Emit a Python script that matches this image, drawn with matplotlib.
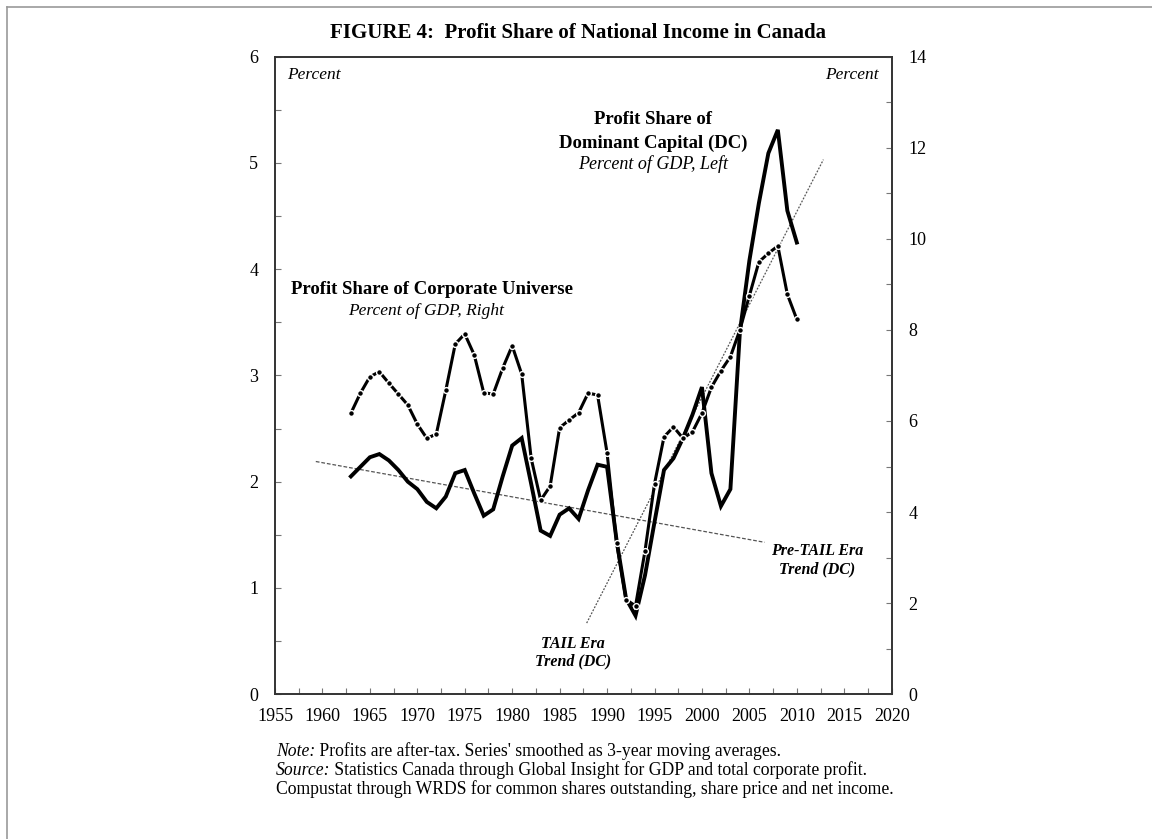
import matplotlib
matplotlib.use("Agg")
import matplotlib.pyplot as plt
from matplotlib.ticker import MultipleLocator
from matplotlib.lines import Line2D

# ---------------- data ----------------
years = list(range(1963, 2011))
dc_share = [2.05, 2.14, 2.23, 2.26, 2.20, 2.11, 2.00, 1.93, 1.81, 1.75,
            1.86, 2.08, 2.11, 1.89, 1.68, 1.74, 2.05, 2.34, 2.41, 1.98,
            1.54, 1.49, 1.69, 1.75, 1.65, 1.92, 2.16, 2.14, 1.45, 0.90,
            0.74, 1.12, 1.62, 2.11, 2.22, 2.41, 2.63, 2.89, 2.08, 1.77,
            1.93, 3.41, 4.08, 4.62, 5.09, 5.31, 4.55, 4.25]
cu_share = [6.17, 6.61, 6.97, 7.08, 6.83, 6.59, 6.35, 5.93, 5.62, 5.71,
            6.67, 7.69, 7.91, 7.45, 6.62, 6.59, 7.16, 7.65, 7.03, 5.18,
            4.26, 4.57, 5.85, 6.02, 6.18, 6.61, 6.57, 5.30, 3.33, 2.08,
            1.94, 3.15, 4.62, 5.65, 5.87, 5.62, 5.76, 6.17, 6.74, 7.10,
            7.41, 8.00, 8.75, 9.49, 9.68, 9.84, 8.78, 8.23]
pre_tail_years = [1959.3, 2006.6]
pre_tail_vals = [2.19, 1.43]
tail_years = [1987.85, 2012.8]
tail_vals = [0.67, 5.03]

x_ticks_major = list(range(1955, 2021, 5))
left_ticks = [0, 1, 2, 3, 4, 5, 6]
right_ticks = [0, 2, 4, 6, 8, 10, 12, 14]

title = "FIGURE 4:  Profit Share of National Income in Canada"

# ---------------- figure ----------------
W, H = 1152, 839
fig = plt.figure(figsize=(W / 100, H / 100), dpi=100)
serif = "Liberation Serif"
plt.rcParams["font.family"] = [serif, "DejaVu Serif"]


def fx(px):
    return px / W


def fy(py):
    return 1 - py / H


axL, axR, axT, axB = 275, 891.7, 56.5, 694.3
ax = fig.add_axes([fx(axL), fy(axB), fx(axR) - fx(axL), fy(axT) - fy(axB)])
ax2 = ax.twinx()

# outer frame (top and left lines)
fig.add_artist(Line2D([fx(7), 1.0], [fy(7), fy(7)], color="#9a9a9a", lw=1.2))
fig.add_artist(Line2D([fx(7), fx(7)], [fy(7), 0.0], color="#9a9a9a", lw=1.2))

# trend lines
ax.plot(pre_tail_years, pre_tail_vals, color="#555555", lw=0.9,
        linestyle=(0, (3, 1.5)))
ax.plot(tail_years, tail_vals, color="#555555", lw=0.9,
        linestyle=(0, (1.5, 1.2)))

# DC series
ax.plot(years, dc_share, color="black", lw=2.8, solid_joinstyle="miter",
        zorder=3)

# Corporate universe series
ax2.plot(years, cu_share, color="black", lw=2.2, marker="o", ms=4.2,
         mfc="black", mec="white", mew=1.0, zorder=4)

ax.set_xlim(1955, 2020)
ax.set_ylim(0, 6)
ax2.set_ylim(0, 14)

ax.xaxis.set_minor_locator(MultipleLocator(2.5))
ax.yaxis.set_minor_locator(MultipleLocator(0.5))
ax2.yaxis.set_minor_locator(MultipleLocator(1))
ax.set_xticks(x_ticks_major)
ax.set_xticklabels([str(v) for v in x_ticks_major])
ax.set_yticks(left_ticks)
ax.set_yticklabels([str(v) for v in left_ticks])
ax2.set_yticks(right_ticks)
ax2.set_yticklabels([str(v) for v in right_ticks])

for a in (ax, ax2):
    for s in a.spines.values():
        s.set_linewidth(1.2)
        s.set_color("#333333")
    a.tick_params(which="both", direction="in", length=4, width=0.8,
                  color="#777777", labelsize=13)
ax.tick_params(axis="y", which="both", right=False, pad=12)
ax.tick_params(axis="x", which="both", top=False, pad=10)
ax2.tick_params(axis="y", which="both", left=False, pad=12)
for lab in ax.get_xticklabels() + ax.get_yticklabels() + ax2.get_yticklabels():
    lab.set_fontfamily(serif)

# ---------------- texts ----------------
fig.text(fx(578), fy(33), title, ha="center", va="center",
         fontsize=15, fontweight="bold", family=serif)
fig.text(fx(287), fy(75), "Percent", ha="left", va="center",
         fontsize=12.5, style="italic", family=serif)
fig.text(fx(879), fy(75), "Percent", ha="right", va="center",
         fontsize=12.5, style="italic", family=serif)

fig.text(fx(432), fy(289), "Profit Share of Corporate Universe", ha="center",
         va="center", fontsize=13.5, fontweight="bold", family=serif)
fig.text(fx(426), fy(311), "Percent of GDP, Right", ha="center",
         va="center", fontsize=12.5, style="italic", family=serif)

fig.text(fx(653), fy(120), "Profit Share of", ha="center", va="center",
         fontsize=13.5, fontweight="bold", family=serif)
fig.text(fx(653), fy(143), "Dominant Capital (DC)", ha="center", va="center",
         fontsize=13.5, fontweight="bold", family=serif)
fig.text(fx(653), fy(164), "Percent of GDP, Left", ha="center", va="center",
         fontsize=13, style="italic", family=serif)

fig.text(fx(817), fy(551), "Pre-TAIL Era", ha="center", va="center",
         fontsize=11.5, fontweight="bold", style="italic", family=serif)
fig.text(fx(817), fy(569), "Trend (DC)", ha="center", va="center",
         fontsize=11.5, fontweight="bold", style="italic", family=serif)
fig.text(fx(573), fy(644), "TAIL Era", ha="center", va="center",
         fontsize=11.5, fontweight="bold", style="italic", family=serif)
fig.text(fx(573), fy(661), "Trend (DC)", ha="center", va="center",
         fontsize=11.5, fontweight="bold", style="italic", family=serif)

# notes with italic prefixes (baseline aligned)
fig.canvas.draw()
renderer = fig.canvas.get_renderer()
note_lines = [
    ("Note:", " Profits are after-tax. Series' smoothed as 3-year moving averages.", 756),
    ("Source:", " Statistics Canada through Global Insight for GDP and total corporate profit.", 775),
    ("", "Compustat through WRDS for common shares outstanding, share price and net income.", 794),
]
for prefix, rest, py in note_lines:
    x0 = fx(276)
    if prefix:
        t = fig.text(x0, fy(py), prefix, ha="left", va="baseline",
                     fontsize=12.7, style="italic", family=serif)
        bb = t.get_window_extent(renderer)
        x0 = bb.x1 / W
    fig.text(x0, fy(py), rest, ha="left", va="baseline", fontsize=12.7,
             family=serif)

fig.savefig("out.png", dpi=100)
